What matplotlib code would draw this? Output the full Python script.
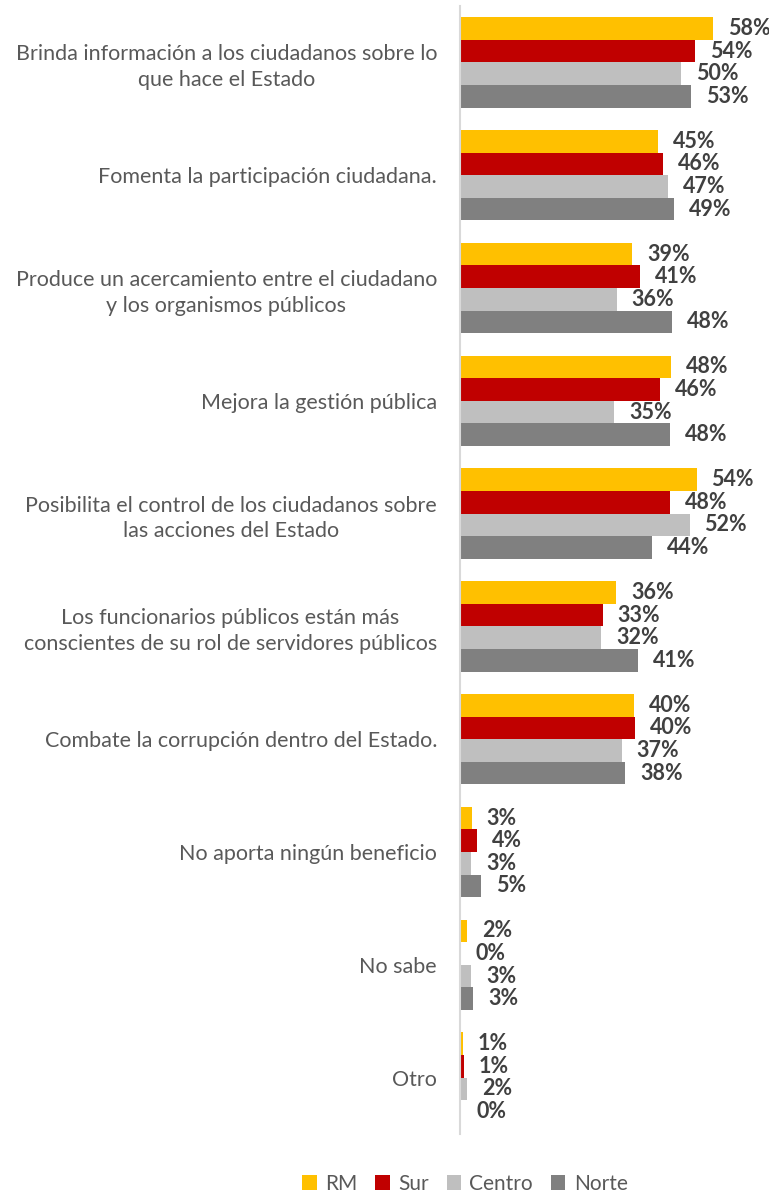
import numpy as np
import matplotlib
matplotlib.use("Agg")
import matplotlib.pyplot as plt

plt.rcParams['font.family'] = ['Lato', 'DejaVu Sans']

# datos
categorias = [
    "Brinda información a los ciudadanos sobre lo\nque hace el Estado",
    "Fomenta la participación ciudadana.",
    "Produce un acercamiento entre el ciudadano\ny los organismos públicos",
    "Mejora la gestión pública",
    "Posibilita el control de los ciudadanos sobre\nlas acciones del Estado",
    "Los funcionarios públicos están más\nconscientes de su rol de servidores públicos",
    "Combate la corrupción dentro del Estado.",
    "No aporta ningún beneficio",
    "No sabe",
    "Otro",
]
rm = [57.7, 45.1, 39.3, 48.2, 54.0, 35.6, 39.7, 2.7, 1.7, 0.6]
sur = [53.7, 46.3, 41.1, 45.7, 47.9, 32.6, 40.0, 3.9, 0.2, 0.8]
centro = [50.4, 47.4, 35.8, 35.2, 52.4, 32.3, 36.9, 2.6, 2.6, 1.6]
norte = [52.7, 48.9, 48.4, 48.0, 43.8, 40.6, 37.7, 4.8, 3.0, 0.3]

series = [("RM", rm, "#FFC000"), ("Sur", sur, "#C00000"),
          ("Centro", centro, "#BFBFBF"), ("Norte", norte, "#808080")]

W, H = 769, 1193
fig = plt.figure(figsize=(W / 100, H / 100), dpi=100)
ax = fig.add_axes([460 / W, 59 / H, 309 / W, 1128 / H])

y = np.arange(len(categorias))
alto = 0.2
offsets = [-0.3, -0.1, 0.1, 0.3]

for (nombre, vals, color), off in zip(series, offsets):
    barras = ax.barh(y + off, vals, height=alto, color=color, label=nombre)
    for b, v in zip(barras, vals):
        ax.annotate(f"{v:.0f}%", (b.get_width(), b.get_y() + alto / 2),
                    xytext=(15, 0), textcoords="offset pixels",
                    ha="left", va="center", fontsize=15.5,
                    fontweight="bold", color="#404040")

ax.set_xlim(0, 309 / 4.38)
ax.set_ylim(len(categorias) - 0.5, -0.5)
ax.set_yticks(y)
ax.set_yticklabels(categorias, fontsize=15.5, color="#595959",
                   multialignment="center", linespacing=1.35)
ax.tick_params(axis="y", length=0, pad=16.5)
ax.set_xticks([])
for s in ["top", "right", "bottom"]:
    ax.spines[s].set_visible(False)
ax.spines["left"].set_color("#D9D9D9")
ax.spines["left"].set_linewidth(1.5)

fig.legend(loc="center", bbox_to_anchor=(465 / W, 1 - 1184 / H), ncol=4,
           frameon=False, fontsize=15, labelcolor="#595959",
           handlelength=0.7, handleheight=0.7, handletextpad=0.4,
           columnspacing=0.85)

fig.savefig("out.png", dpi=100)
